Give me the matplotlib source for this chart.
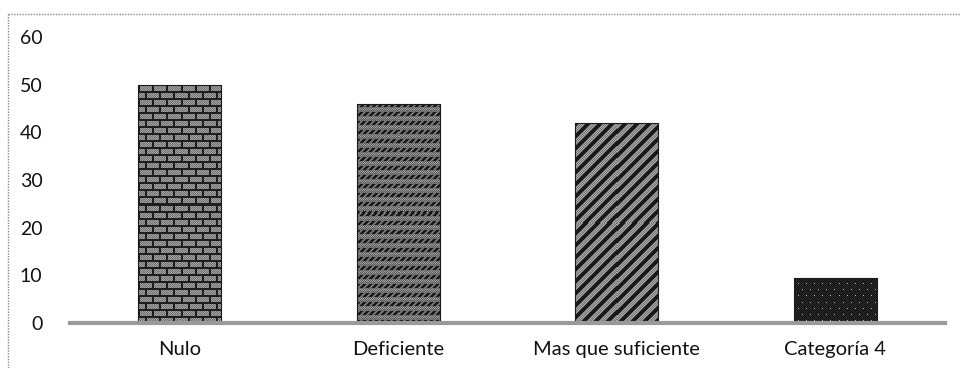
import matplotlib

matplotlib.use("Agg")
import matplotlib.pyplot as plt
from matplotlib.lines import Line2D
import numpy as np

categories = ["Nulo", "Deficiente", "Mas que suficiente", "Categoría 4"]
values = [50, 46, 42, 9.5]
y_ticks = [0, 10, 20, 30, 40, 50, 60]

plt.rcParams["font.family"] = ["Lato", "DejaVu Sans"]


def brick(h, w):
    r, c = np.mgrid[0:h, 0:w]
    row = r // 7
    shift = (row % 2) * 7
    mortar = (r % 7 < 2) | ((c + shift) % 14 < 2)
    img = np.where(mortar, 30, 115).astype(float)
    img[~mortar & ((r + c) % 2 == 0)] = 160
    return img


def dashes(h, w):
    r, c = np.mgrid[0:h, 0:w]
    band = r % 9
    img = np.where((r + c) % 2 == 0, 135, 90).astype(float)
    dash = (band < 4) & ((c + r) % 6 < 3)
    img[dash] = 25
    img[(band >= 5) & (band < 7) & ((r + c) % 2 == 0)] = 165
    return img


def stripes(h, w):
    r, c = np.mgrid[0:h, 0:w]
    k = (r + c) % 12
    img = np.where(k < 5, 25, 115).astype(float)
    img[(k >= 6) & (k < 11) & ((r + c) % 2 == 0)] = 170
    return img


def dots(h, w):
    r, c = np.mgrid[0:h, 0:w]
    img = np.full((h, w), 20.0)
    row = r // 6
    on = (r % 6 == 0) & ((c + (row % 2) * 4) % 8 == 0)
    img[on] = 190
    img[((r + c) % 2 == 0) & ~on] = 40
    return img


textures = [brick, dashes, stripes, dots]

fig = plt.figure(figsize=(9.62, 3.68), dpi=100)
ax = fig.add_axes([0.073, 0.122, 0.909, 0.777])

x = np.arange(len(categories))
bars = ax.bar(x, values, width=0.38, facecolor="none", edgecolor="#1a1a1a", linewidth=0.8, zorder=3)
ax.set_xlim(-0.5, len(categories) - 0.5)
ax.set_ylim(0, 60)

fig.canvas.draw()
for bar, tex in zip(bars, textures):
    x0, y0 = bar.get_x(), bar.get_y()
    bw, bh = bar.get_width(), bar.get_height()
    (px0, py0), (px1, py1) = ax.transData.transform([(x0, y0), (x0 + bw, y0 + bh)])
    h = max(1, int(round(py1 - py0)))
    w = max(1, int(round(px1 - px0)))
    im = ax.imshow(tex(h, w), cmap="gray", vmin=0, vmax=255, interpolation="nearest",
                   extent=(x0, x0 + bw, y0, y0 + bh), aspect="auto", zorder=2)
    im.set_clip_path(bar)
ax.set_xlim(-0.5, len(categories) - 0.5)
ax.set_ylim(0, 60)

ax.axhline(0, color="#9a9a9a", linewidth=3, zorder=4, clip_on=False)
for s in ax.spines.values():
    s.set_visible(False)
ax.set_yticks(y_ticks)
ax.set_yticklabels([str(t) for t in y_ticks], fontsize=14, color="#111111")
ax.tick_params(axis="y", length=0, pad=20)
ax.set_xticks(x)
ax.set_xticklabels(categories, fontsize=14.5, color="#111111")
ax.tick_params(axis="x", length=0, pad=13)

fig.add_artist(Line2D([8 / 962, 1.0], [1 - 14 / 368, 1 - 14 / 368], transform=fig.transFigure,
                      color="#888888", linewidth=1, linestyle=(0, (1, 1))))
fig.add_artist(Line2D([8 / 962, 8 / 962], [0, 1 - 14 / 368], transform=fig.transFigure,
                      color="#888888", linewidth=1, linestyle=(0, (1, 1))))

fig.savefig("out.png", dpi=100)
